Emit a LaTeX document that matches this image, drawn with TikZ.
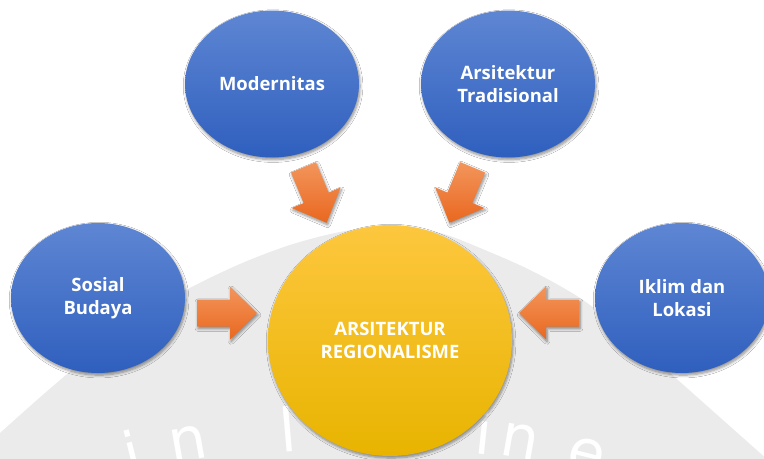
\documentclass[tikz,border=0pt]{standalone}
\usepackage{fontspec}
\setmainfont{Open Sans}
\newfontfamily\sealfont{DejaVu Sans}
\usetikzlibrary{shapes.geometric,shadows.blur}

\definecolor{bluetop}{HTML}{5E86D3}
\definecolor{bluebot}{HTML}{2F5FBE}
\definecolor{goldtop}{HTML}{FDC73E}
\definecolor{goldbot}{HTML}{E8B400}
\definecolor{orangetop}{HTML}{F3955C}
\definecolor{orangebot}{HTML}{E9681F}
\definecolor{wmgray}{HTML}{EBEBEB}

\tikzset{
  softshadow/.style={blur shadow={shadow xshift=0.6pt, shadow yshift=-1.2pt,
      shadow blur steps=6, shadow blur radius=1.6pt, shadow opacity=45}},
  factor/.style={ellipse, inner sep=0pt, minimum width=3.48cm, minimum height=2.94cm,
      top color=bluetop, bottom color=bluebot, softshadow,
      text=white, align=center, font=\bfseries\fontsize{10.5}{13}\selectfont},
  core/.style={ellipse, inner sep=0pt, minimum width=4.88cm, minimum height=4.62cm,
      top color=goldtop, bottom color=goldbot, softshadow,
      text=white, align=center, font=\bfseries\fontsize{10.5}{13.5}\selectfont},
  blockarrow/.style={top color=orangetop, bottom color=orangebot, softshadow},
  wmletter/.style={text=white, anchor=base, inner sep=0pt,
      font=\sealfont\fontsize{34}{34}\selectfont}
}

\begin{document}
\begin{tikzpicture}[x=0.02cm, y=-0.02cm]
  \useasboundingbox (0,0) rectangle (764,459);
  \fill[white] (0,0) rectangle (764,459);

  % faint background seal
  \begin{scope}
    \clip (0,0) rectangle (764,459);
    \fill[wmgray] plot[smooth, tension=0.5] coordinates {
        (-30,460) (0,433) (45,393) (90,355) (135,321) (186,290) (240,264)
        (290,245) (340,232) (390,226) (440,233) (480,248) (530,270)
        (580,298) (625,333) (670,373) (715,413) (760,453) (790,480)}
      -- (790,470) -- (-30,470) -- cycle;
    \node[wmletter, rotate=14]  (wm1) at (138,474) {i};
    \node[wmletter, rotate=10]  (wm2) at (191,460) {n};
    \node[wmletter, rotate=5]   (wm3) at (290,452) {l};
    \node[wmletter, rotate=-6]  (wm4) at (482,454) {i};
    \node[wmletter, rotate=-10] (wm5) at (517,458) {n};
    \node[wmletter, rotate=-14] (wm6) at (582,472) {e};
  \end{scope}

  % block arrows pointing to the centre
  \path[blockarrow] (315.9,162.1) -- (328.6,192.6) -- (340.6,187.5) -- (326.6,222.7)
        -- (291.7,208.0) -- (303.7,203.0) -- (291.0,172.5) -- cycle;
  \path[blockarrow] (460.1,162.1) -- (447.4,192.6) -- (435.4,187.5) -- (449.4,222.7)
        -- (484.3,208.0) -- (472.3,203.0) -- (485.0,172.5) -- cycle;
  \path[blockarrow] (197,299.5) -- (230,299.5) -- (230,286.5) -- (257,313)
        -- (230,339.5) -- (230,326.5) -- (197,326.5) -- cycle;
  \path[blockarrow] (579,299.5) -- (546,299.5) -- (546,286.5) -- (519,313)
        -- (546,339.5) -- (546,326.5) -- (579,326.5) -- cycle;

  % influences
  \node[factor] (modern)  at (272,84)  {Modernitas};
  \node[factor] (tradisi) at (508,84)  {Arsitektur\\Tradisional};
  \node[factor, minimum height=3.0cm] (sosial) at (98,298)  {Sosial\\Budaya};
  \node[factor, minimum height=3.0cm] (iklim)  at (682,298) {Iklim dan\\Lokasi};

  % result
  \node[core] (regional) at (390,340.5) {ARSITEKTUR\\REGIONALISME};
\end{tikzpicture}
\end{document}
